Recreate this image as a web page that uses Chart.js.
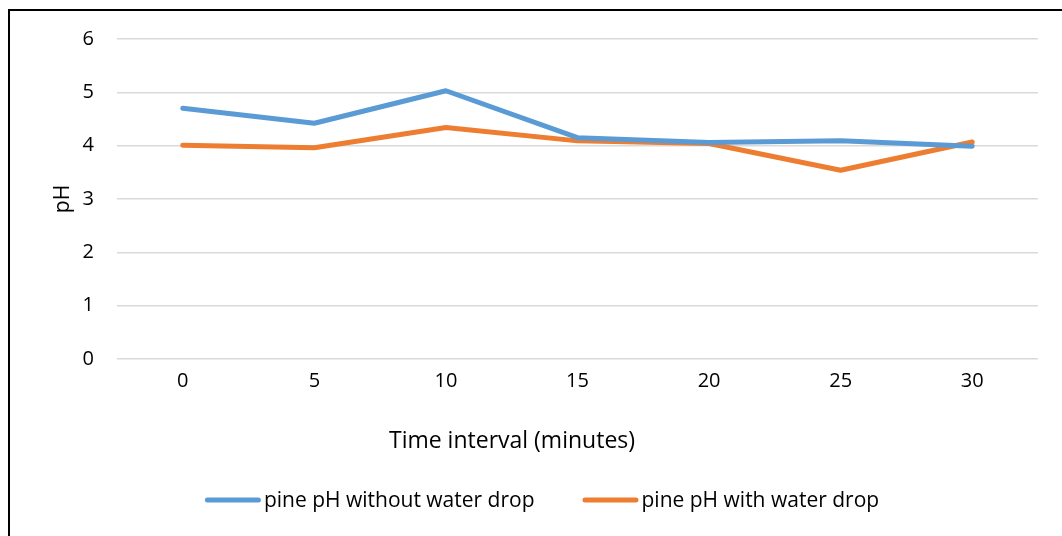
<!DOCTYPE html>
<html>
<head>
<meta charset="utf-8">
<script src="https://cdn.jsdelivr.net/npm/chart.js@4"></script>
<style>
    html, body { margin: 0; padding: 0; background: #fff; overflow: hidden; }
    #wrap { position: relative; width: 1062px; height: 536px; }
    #frame {
        position: absolute; left: 8px; top: 9px;
        width: 1200px; height: 700px;
        border: 2px solid #000; box-sizing: border-box;
        pointer-events: none;
    }
    canvas { position: absolute; left: 0; top: 0; }
</style>
</head>
<body>
<div id="wrap">
    <canvas id="ph-chart" width="1062" height="536"></canvas>
    <div id="frame"></div>
</div>
<script>
// Intervalles de temps (minutes)
const timeLabels = ['0', '5', '10', '15', '20', '25', '30'];
// pH mesuré sans goutte d'eau
const phWithoutDrop = [4.70, 4.42, 5.03, 4.15, 4.06, 4.09, 3.99];
// pH mesuré avec goutte d'eau
const phWithDrop = [4.01, 3.96, 4.34, 4.09, 4.04, 3.54, 4.07];
const yTicks = [0, 1, 2, 3, 4, 5, 6];
const xTitle = 'Time interval (minutes)';

const blue = '#5B9BD5';
const orange = '#ED7D31';
const fontFamily = "'Open Sans', 'Noto Sans', sans-serif";

Chart.defaults.font.family = fontFamily;
Chart.defaults.color = '#000';

// Titre de l'axe X (placé comme dans Excel, pas centré sur la zone de tracé)
const xAxisTitle = {
    id: 'xAxisTitle',
    afterDraw(chart, args, opts) {
        const c = chart.ctx;
        c.save();
        c.font = opts.fontSize + 'px ' + fontFamily;
        c.fillStyle = '#000';
        c.textAlign = 'center';
        c.textBaseline = 'middle';
        c.fillText(opts.text, opts.x, opts.y);
        c.restore();
    }
};

// Légende style Excel : trait épais + texte collé
const lineLegend = {
    id: 'lineLegend',
    afterDraw(chart, args, opts) {
        const c = chart.ctx;
        const lineLen = opts.lineLength;
        const gap = opts.textGap;
        const spacing = opts.itemSpacing;
        c.save();
        c.font = opts.fontSize + 'px ' + fontFamily;
        c.textBaseline = 'middle';
        c.textAlign = 'left';
        const items = chart.data.datasets.map(ds => ({
            text: ds.label,
            color: ds.borderColor,
            width: lineLen + gap + c.measureText(ds.label).width
        }));
        const total = items.reduce((a, it) => a + it.width, 0) + spacing * (items.length - 1);
        let x = opts.centerX - total / 2;
        const y = opts.y;
        items.forEach(function(it) {
            c.strokeStyle = it.color;
            c.lineWidth = 5;
            c.lineCap = 'round';
            c.beginPath();
            c.moveTo(x + 2.5, y);
            c.lineTo(x + lineLen - 2.5, y);
            c.stroke();
            c.fillStyle = '#000';
            c.fillText(it.text, x + lineLen + gap, y + 1);
            x += it.width + spacing;
        });
        c.restore();
    }
};

const ctx = document.getElementById('ph-chart');
const phChart = new Chart(ctx, {
    type: 'line',
    data: {
        labels: timeLabels,
        datasets: [{
            label: 'pine pH without water drop',
            data: phWithoutDrop,
            borderColor: blue,
            backgroundColor: blue,
            borderWidth: 5,
            pointRadius: 0,
            tension: 0,
            borderCapStyle: 'round',
            borderJoinStyle: 'round'
        }, {
            label: 'pine pH with water drop',
            data: phWithDrop,
            borderColor: orange,
            backgroundColor: orange,
            borderWidth: 5,
            pointRadius: 0,
            tension: 0,
            borderCapStyle: 'round',
            borderJoinStyle: 'round'
        }]
    },
    options: {
        responsive: false,
        animation: false,
        layout: { padding: { left: 50, right: 24, top: 39, bottom: 77 } },
        scales: {
            x: {
                offset: true,
                grid: { display: false, drawTicks: false },
                border: { display: false },
                ticks: { padding: 10, font: { size: 20 } },
                afterFit: function(scale) { scale.height = 100; }
            },
            y: {
                min: 0,
                max: 6,
                afterBuildTicks: function(scale) {
                    scale.ticks = yTicks.map(v => ({ value: v }));
                },
                grid: { color: '#d9d9d9', lineWidth: 1.5, drawTicks: false },
                border: { display: false },
                ticks: { padding: 23, font: { size: 20 } },
                title: {
                    display: true,
                    text: 'pH',
                    font: { size: 21 },
                    padding: 0
                },
                afterFit: function(scale) { scale.width = 67; }
            }
        },
        plugins: {
            legend: { display: false },
            tooltip: { enabled: false },
            xAxisTitle: { text: xTitle, x: 512, y: 441, fontSize: 23 },
            lineLegend: {
                centerX: 542,
                y: 500,
                lineLength: 56,
                textGap: 3,
                itemSpacing: 48,
                fontSize: 21
            }
        }
    },
    plugins: [xAxisTitle, lineLegend]
});
</script>
</body>
</html>
